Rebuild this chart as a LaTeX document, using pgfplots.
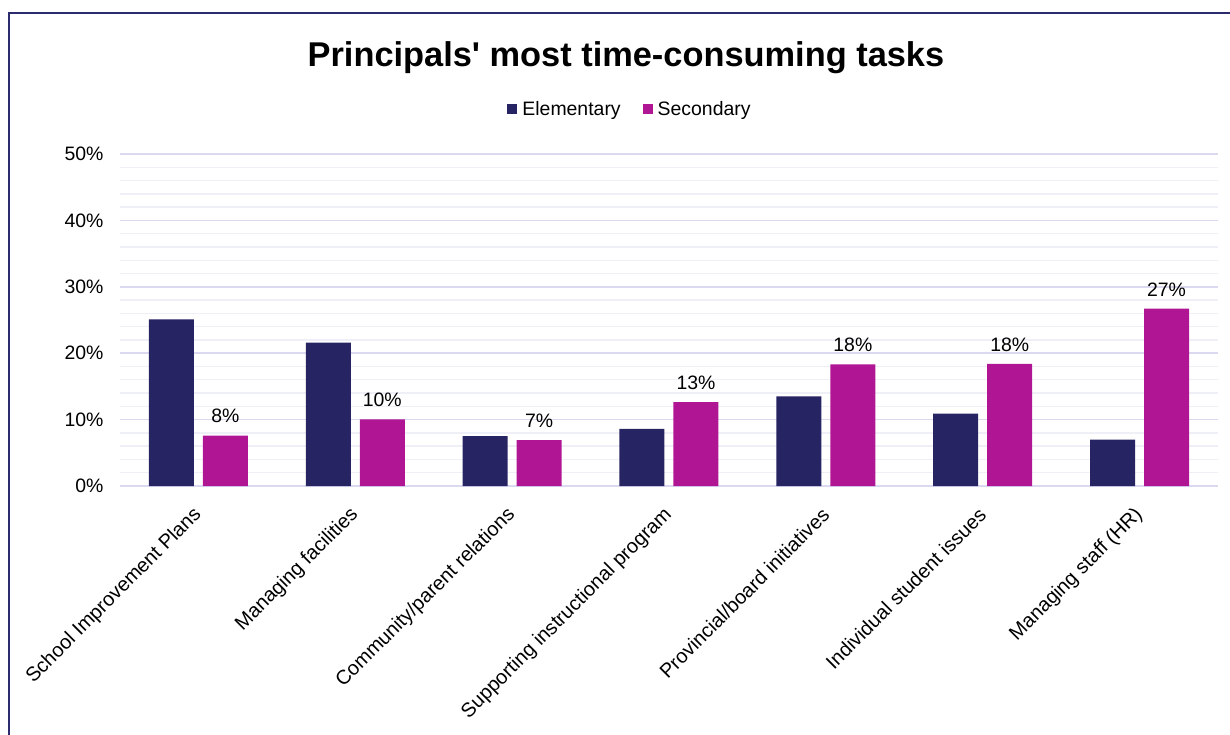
\documentclass[border=0pt]{standalone}
\usepackage{fontspec}
\setmainfont{Liberation Sans}[Ligatures=TeXOff]
\usepackage{pgfplots}
\pgfplotsset{compat=1.18}
\definecolor{elem}{RGB}{38,36,98}
\definecolor{sec}{RGB}{176,21,148}
\definecolor{majorgrid}{RGB}{218,217,240}
\definecolor{minorgrid}{RGB}{239,239,248}
\definecolor{framec}{RGB}{44,43,110}
\begin{document}
\begin{tikzpicture}
\useasboundingbox (0,0) rectangle (1230bp,-735bp);
\draw[framec, line width=2bp] (8.5bp,-740bp) -- (8.5bp,-12.5bp) -- (1240bp,-12.5bp);
\begin{axis}[
  at={(120bp,-486bp)}, anchor=south west,
  scale only axis, width=1098bp, height=332bp,
  xmin=-0.5, xmax=6.5, ymin=0, ymax=50,
  ybar=9bp, bar width=45bp,
  clip=false,
  axis line style={draw=none},
  tick style={draw=none},
  ytick={0,10,...,50},
  minor ytick={2,4,6,8,12,14,16,18,22,24,26,28,32,34,36,38,42,44,46,48},
  ymajorgrids, yminorgrids,
  major grid style={majorgrid, line width=1.6bp},
  minor grid style={minorgrid, line width=1.4bp},
  /pgf/number format/assume math mode=true,
  yticklabel={\pgfmathprintnumber{\tick}\%},
  yticklabel style={font=\fontsize{19.5}{22}\selectfont, xshift=-13bp},
  xtick={0,...,6},
  xticklabels={School Improvement Plans, Managing facilities, Community/parent relations, Supporting instructional program, Provincial/board initiatives, Individual student issues, Managing staff (HR)},
  xticklabel style={xshift=2.3bp, yshift=-19bp, rotate=45, anchor=east, font=\fontsize{20}{23}\selectfont},
  title={\bfseries Principals' most time-consuming tasks},
  title style={at={(0.4608,1.272)}, anchor=center, font=\fontsize{34.5}{40}\selectfont},
  legend style={at={(0.4645,1.1355)}, anchor=center, draw=none, fill=none,
    legend columns=2, font=\fontsize{19.5}{22}\selectfont,
    /tikz/every odd column/.append style={column sep=3bp},
    /tikz/every even column/.append style={column sep=20bp}},
  legend image code/.code={\fill[#1] (0bp,-5bp) rectangle (10bp,5bp);},
]
\addplot[fill=elem, draw=none] coordinates {(0,25.1) (1,21.6) (2,7.5) (3,8.6) (4,13.5) (5,10.9) (6,7.0)};
\addlegendentry{Elementary}
\addplot[fill=sec, draw=none,
  nodes near coords={\pgfmathprintnumber[fixed,precision=0]{\pgfplotspointmeta}\%},
  nodes near coords style={anchor=south, yshift=9bp, text=black, font=\fontsize{19.5}{22}\selectfont}]
  coordinates {(0,7.6) (1,10.05) (2,6.9) (3,12.65) (4,18.3) (5,18.4) (6,26.7)};
\addlegendentry{Secondary}
\end{axis}
\end{tikzpicture}
\end{document}
